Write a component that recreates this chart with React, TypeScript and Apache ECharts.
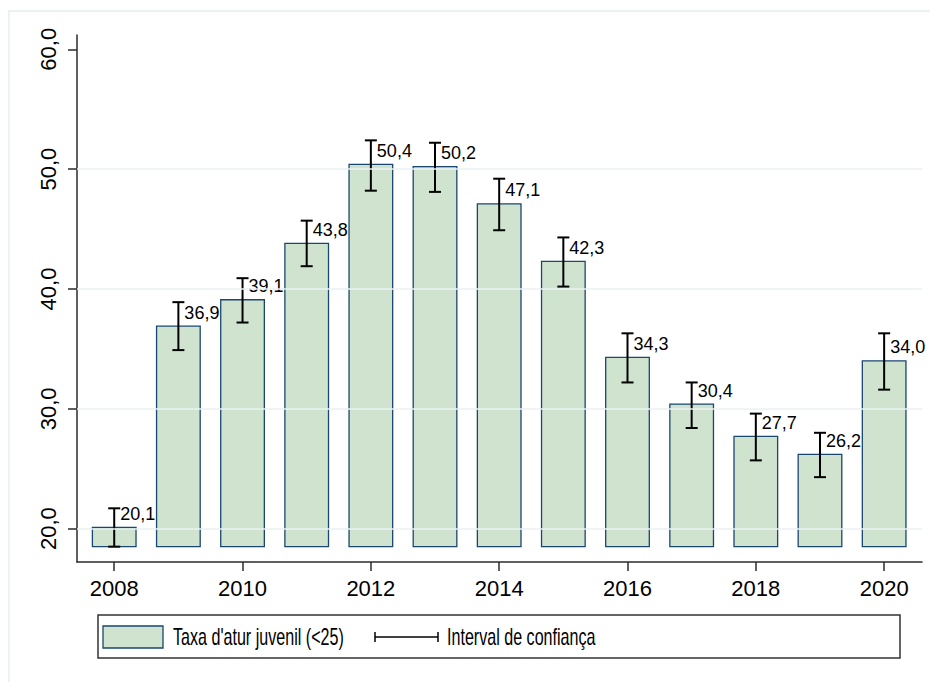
import React, { useEffect, useRef } from "react";
import * as echarts from "echarts";

// ---- data ----
const YEARS = [2008, 2009, 2010, 2011, 2012, 2013, 2014, 2015, 2016, 2017, 2018, 2019, 2020];
const RATE = [20.1, 36.9, 39.1, 43.8, 50.4, 50.2, 47.1, 42.3, 34.3, 30.4, 27.7, 26.2, 34.0];
const CI_LOW = [18.5, 34.9, 37.2, 41.9, 48.2, 48.1, 44.9, 40.2, 32.2, 28.4, 25.7, 24.3, 31.6];
const CI_HIGH = [21.7, 38.9, 40.9, 45.7, 52.4, 52.2, 49.2, 44.3, 36.3, 32.2, 29.6, 28.0, 36.3];
const Y_TICKS = [20, 30, 40, 50, 60];
const Y_GRID = [20, 30, 40, 50];
const X_TICKS = [2008, 2010, 2012, 2014, 2016, 2018, 2020];
const SERIES_NAME = "Taxa d'atur juvenil (<25)";
const CI_NAME = "Interval de confiança";

const FONT = "'Liberation Sans', Arial, Helvetica, sans-serif";
const BAR_FILL = "#cfe3cf";
const BAR_EDGE = "#1a476f";
const AXIS_COLOR = "#2b2b2b";
const GRID_COLOR = "#eaf2f3";

const fmt = (v: number) => v.toFixed(1).replace(".", ",");

export default function App() {
  const ref = useRef<HTMLDivElement>(null);

  useEffect(() => {
    document.body.style.margin = "0";
    if (!ref.current) return;
    const chart = echarts.init(ref.current, null, { renderer: "svg" });
    const barBase = Math.min(...CI_LOW);
    const rows = YEARS.map((y, i) => [y, RATE[i], CI_LOW[i], CI_HIGH[i]]);

    const option: any = {
      animation: false,
      backgroundColor: "#ffffff",
      grid: { left: 77, right: 8, top: 35, bottom: 120 },
      xAxis: {
        type: "value",
        min: 2007.42,
        max: 2020.59,
        axisLine: { show: true, lineStyle: { color: AXIS_COLOR, width: 1.5 } },
        axisTick: { show: true, length: 9, lineStyle: { color: AXIS_COLOR, width: 1.5 }, customValues: X_TICKS },
        axisLabel: {
          customValues: X_TICKS,
          formatter: (v: number) => String(Math.round(v)),
          fontSize: 22,
          fontFamily: FONT,
          color: "#000",
          margin: 15,
          hideOverlap: false,
        },
        splitLine: { show: false },
      },
      yAxis: {
        type: "value",
        min: 17.22,
        max: 61.19,
        axisLine: { show: true, lineStyle: { color: AXIS_COLOR, width: 1.5 } },
        axisTick: { show: true, length: 9, lineStyle: { color: AXIS_COLOR, width: 1.5 }, customValues: Y_TICKS },
        axisLabel: {
          customValues: Y_TICKS,
          formatter: (v: number) => fmt(v),
          fontSize: 22,
          fontFamily: FONT,
          color: "#000",
          rotate: 90,
          margin: 18,
          hideOverlap: false,
        },
        splitLine: { show: false },
      },
      series: [
        {
          type: "line",
          name: "grid",
          data: [],
          z: 1,
          silent: true,
          markLine: {
            silent: true,
            symbol: ["none", "none"],
            label: { show: false },
            lineStyle: { color: GRID_COLOR, width: 1.5, type: "solid" },
            data: Y_GRID.map((v) => ({ yAxis: v })),
          },
        },
        {
          type: "custom",
          name: SERIES_NAME,
          z: 3,
          data: rows,
          encode: { x: 0, y: 1 },
          renderItem: (params: any, api: any) => {
            const x = api.value(0);
            const v = api.value(1);
            const top = api.coord([x, v]);
            const bottom = api.coord([x, barBase]);
            const w = api.size([0.68, 0])[0];
            return {
              type: "rect",
              shape: { x: top[0] - w / 2, y: top[1], width: w, height: bottom[1] - top[1] },
              style: { fill: BAR_FILL, stroke: BAR_EDGE, lineWidth: 1.3 },
            };
          },
        },
        {
          type: "custom",
          name: CI_NAME,
          z: 4,
          data: rows,
          encode: { x: 0, y: [1, 2, 3] },
          renderItem: (params: any, api: any) => {
            const x = api.value(0);
            const v = api.value(1);
            const lo = api.coord([x, api.value(2)]);
            const hi = api.coord([x, api.value(3)]);
            const pv = api.coord([x, v]);
            const cap = 6;
            const ls = { stroke: "#000", lineWidth: 2 };
            return {
              type: "group",
              children: [
                { type: "line", shape: { x1: lo[0], y1: lo[1], x2: hi[0], y2: hi[1] }, style: ls },
                { type: "line", shape: { x1: hi[0] - cap, y1: hi[1], x2: hi[0] + cap, y2: hi[1] }, style: ls },
                { type: "line", shape: { x1: lo[0] - cap, y1: lo[1], x2: lo[0] + cap, y2: lo[1] }, style: ls },
                {
                  type: "text",
                  x: pv[0] + 6,
                  y: pv[1] - 13.5,
                  style: {
                    text: fmt(v),
                    fontSize: 18,
                    fontFamily: FONT,
                    fill: "#000",
                    align: "left",
                    verticalAlign: "middle",
                  },
                },
              ],
            };
          },
        },
      ],
      graphic: [
        {
          type: "rect",
          silent: true,
          shape: { x: 9, y: 11, width: 940, height: 700 },
          style: { fill: "none", stroke: GRID_COLOR, lineWidth: 2 },
          z: -1,
        },
        {
          type: "group",
          children: [
            {
              type: "rect",
              shape: { x: 98, y: 615, width: 802, height: 43 },
              style: { fill: "#fff", stroke: "#333", lineWidth: 1.5 },
            },
            {
              type: "rect",
              shape: { x: 103, y: 626, width: 60, height: 22 },
              style: { fill: BAR_FILL, stroke: BAR_EDGE, lineWidth: 1.3 },
            },
            {
              type: "text",
              x: 173,
              y: 637,
              scaleX: 0.7,
              style: { text: SERIES_NAME, fontSize: 23, fontFamily: FONT, fill: "#000", align: "left", verticalAlign: "middle" },
            },
            { type: "line", shape: { x1: 375, y1: 637, x2: 438, y2: 637 }, style: { stroke: "#000", lineWidth: 1.5 } },
            { type: "line", shape: { x1: 375, y1: 632, x2: 375, y2: 642 }, style: { stroke: "#000", lineWidth: 1.5 } },
            { type: "line", shape: { x1: 438, y1: 632, x2: 438, y2: 642 }, style: { stroke: "#000", lineWidth: 1.5 } },
            {
              type: "text",
              x: 447,
              y: 637,
              scaleX: 0.7,
              style: { text: CI_NAME, fontSize: 23, fontFamily: FONT, fill: "#000", align: "left", verticalAlign: "middle" },
            },
          ],
        },
      ],
    };

    chart.setOption(option);
    return () => chart.dispose();
  }, []);

  return <div ref={ref} style={{ width: 930, height: 682 }} />;
}
